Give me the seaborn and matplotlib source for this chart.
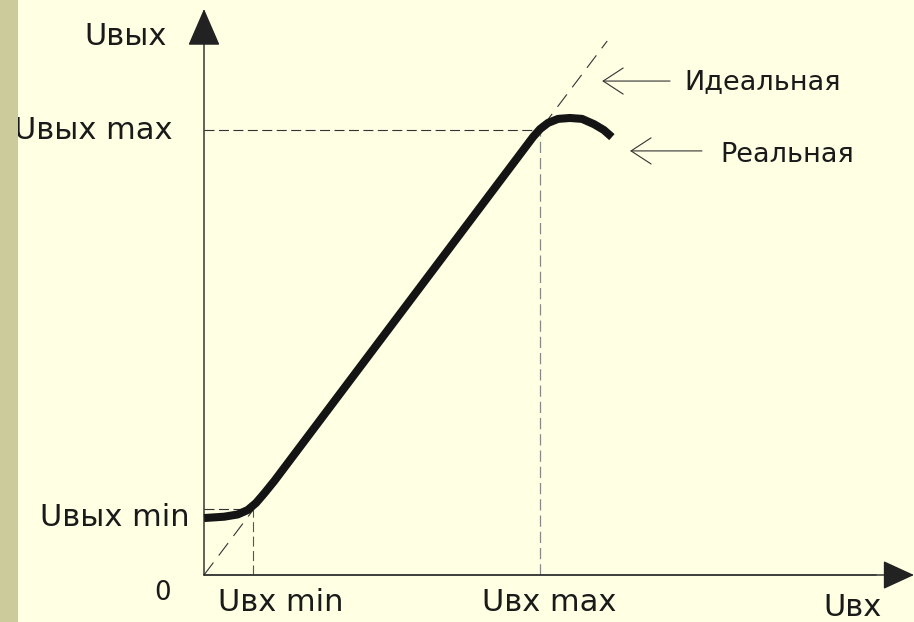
import numpy as np
import pandas as pd
import matplotlib.pyplot as plt
import seaborn as sns
from matplotlib.patches import Rectangle

# characteristic in relative units (Uвх max = Uвых max = 1)
u_in_min = 0.146
u_out_min = 0.148
u_in_max = 1.0
u_out_max = 1.0
ideal_end = 1.2

u_in_real = [0.0, 0.06, 0.10, 0.13, 0.155, 0.18, 0.21, 0.979, 1.0, 1.024, 1.054,
             1.089, 1.125, 1.161, 1.190, 1.214]
u_out_real = [0.128, 0.131, 0.136, 0.146, 0.162, 0.184, 0.212, 0.984, 1.002, 1.016, 1.025,
              1.027, 1.025, 1.013, 1.000, 0.984]

real = pd.DataFrame({'Uвх': u_in_real, 'Uвых': u_out_real})
ideal = pd.DataFrame({'Uвх': [0.0, ideal_end], 'Uвых': [0.0, ideal_end]})

sns.set_style('white')
plt.rcParams['font.family'] = ['DejaVu Sans']

bg = '#FFFFE3'
fig = plt.figure(figsize=(9.14, 6.22), dpi=100, facecolor=bg)
ax = fig.add_axes([0, 0, 1, 1])
ax.set_facecolor(bg)
fig.patches.append(Rectangle((0, 0), 18 / 914, 1, transform=fig.transFigure,
                             facecolor='#CBCB9C', edgecolor='none', zorder=0))

# dashed guides
ax.plot(ideal['Uвх'], ideal['Uвых'], color='#333333', lw=0.8, dashes=(14, 8))
ax.plot([0, u_in_max], [u_out_max, u_out_max], color='#333333', lw=0.8, dashes=(9, 4))
ax.plot([u_in_max, u_in_max], [0, u_out_max], color='#888888', lw=0.9, dashes=(9, 4))
ax.plot([0, u_in_min], [u_out_min, u_out_min], color='#333333', lw=0.8, dashes=(9, 4))
ax.plot([u_in_min, u_in_min], [0, u_out_min], color='#555555', lw=0.8, dashes=(9, 4))

# real curve
sns.lineplot(data=real, x='Uвх', y='Uвых', sort=False, estimator=None,
             color='#141414', lw=5.8, ax=ax, solid_capstyle='butt',
             solid_joinstyle='round')

# axes with arrows
ax.annotate('', xy=(0, 1.272), xytext=(0, 0),
            arrowprops=dict(arrowstyle='-|>,head_length=1.2,head_width=0.52',
                            mutation_scale=20, lw=1, color='#222222',
                            shrinkA=0, shrinkB=0))
ax.annotate('', xy=(2.113, 0), xytext=(0, 0),
            arrowprops=dict(arrowstyle='-|>,head_length=1.0,head_width=0.46',
                            mutation_scale=20, lw=1, color='#222222',
                            shrinkA=0, shrinkB=0))
ax.plot([0, 2.0], [0, 0], color='#777777', lw=1.2)

# pointers
ptr = dict(arrowstyle='->,head_length=0.72,head_width=0.47', mutation_scale=20,
           lw=0.8, color='#333333', shrinkA=0, shrinkB=0)
ax.annotate('', xy=(1.185, 1.110), xytext=(1.387, 1.110), arrowprops=ptr)
ax.annotate('', xy=(1.268, 0.953), xytext=(1.482, 0.953), arrowprops=ptr)

fs = 22
fs2 = 19.5
tc = '#1a1a1a'
ax.text(1.429, 1.092, 'Идеальная', fontsize=fs2, color=tc, ha='left', va='baseline')
ax.text(1.536, 0.928, 'Реальная', fontsize=fs2, color=tc, ha='left', va='baseline')
ax.text(-0.110, 1.191, 'Uвых', fontsize=fs, color=tc, ha='right', va='baseline')
ax.text(-0.095, 0.980, 'Uвых max', fontsize=fs, color=tc, ha='right', va='baseline')
ax.text(-0.042, 0.110, 'Uвых min', fontsize=fs, color=tc, ha='right', va='baseline')
ax.text(-0.122, -0.056, '0', fontsize=fs * 0.85, color=tc, ha='center', va='baseline')
ax.text(0.042, -0.081, 'Uвх min', fontsize=fs, color=tc, ha='left', va='baseline')
ax.text(0.827, -0.081, 'Uвх max', fontsize=fs, color=tc, ha='left', va='baseline')
ax.text(1.842, -0.092, 'Uвх', fontsize=fs, color=tc, ha='left', va='baseline')

ax.set_xlim(-204 / 336, 710 / 336)
ax.set_ylim(-47 / 445, 575 / 445)
ax.axis('off')

fig.savefig('out.png', dpi=100, facecolor=bg)
